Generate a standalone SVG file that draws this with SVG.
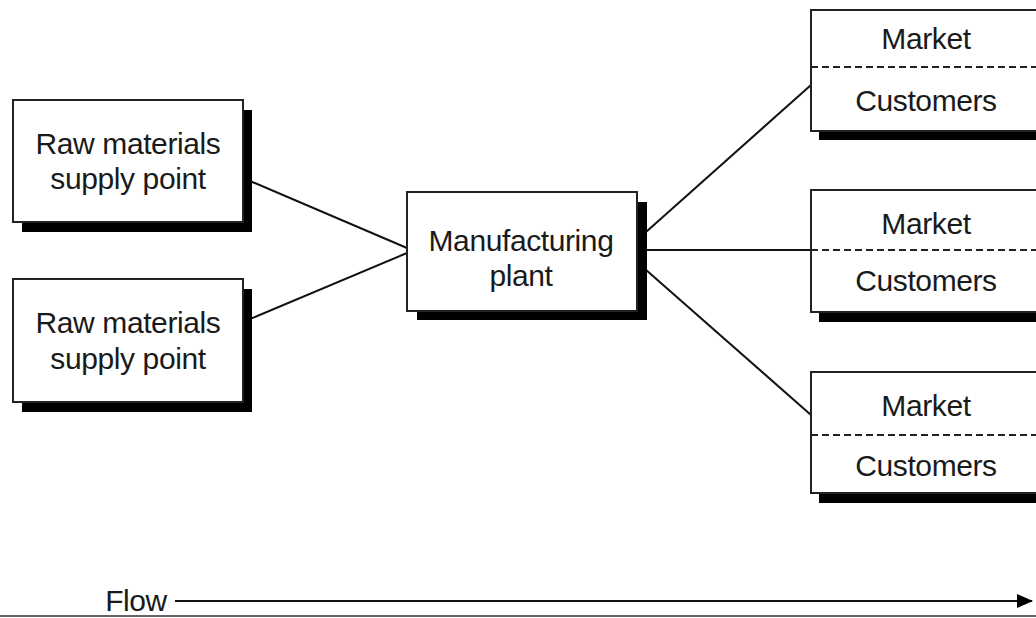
<svg xmlns="http://www.w3.org/2000/svg" width="1036" height="618" viewBox="0 0 1036 618">
<defs>
<style>
.box{fill:#fff;stroke:#222;stroke-width:2}
.sh{fill:#000}
.t{font-family:"Liberation Sans",Arial,sans-serif;font-size:30px;fill:#1a1a1a;text-anchor:middle;letter-spacing:-0.4px}
.c{stroke:#111;stroke-width:2;fill:none}
.d{stroke:#222;stroke-width:2;stroke-dasharray:7,4;fill:none}
</style>
<marker id="ah" markerWidth="16" markerHeight="16" refX="15" refY="8" orient="auto" markerUnits="userSpaceOnUse">
<path d="M0,1 L16,8 L0,15 Z" fill="#000"/>
</marker>
</defs>
<rect width="1036" height="618" fill="#fff"/>
<g id="connectors">
<line class="c" x1="243" y1="178" x2="407" y2="248"/>
<line class="c" x1="243" y1="322" x2="407" y2="253"/>
<line class="c" x1="637" y1="240" x2="811" y2="85"/>
<line class="c" x1="637" y1="250" x2="811" y2="250"/>
<line class="c" x1="637" y1="262" x2="811" y2="415"/>
</g>
<g id="raw1">
<rect class="sh" x="22" y="110" width="230" height="122"/>
<rect class="box" x="13" y="100" width="230" height="122"/>
<text class="t" x="128" y="154">Raw materials</text>
<text class="t" x="128" y="189">supply point</text>
</g>
<g id="raw2">
<rect class="sh" x="22" y="289" width="230" height="123"/>
<rect class="box" x="13" y="279" width="230" height="123"/>
<text class="t" x="128" y="333">Raw materials</text>
<text class="t" x="128" y="369">supply point</text>
</g>
<g id="plant">
<rect class="sh" x="417" y="202" width="230" height="118"/>
<rect class="box" x="407" y="192" width="230" height="119"/>
<text class="t" x="521" y="251">Manufacturing</text>
<text class="t" x="521" y="286">plant</text>
</g>
<g id="market1">
<rect class="sh" x="819" y="20" width="230" height="120"/>
<rect class="box" x="811" y="10" width="240" height="121"/>
<line class="d" x1="811" y1="67" x2="1036" y2="67"/>
<text class="t" x="926" y="49">Market</text>
<text class="t" x="926" y="111">Customers</text>
</g>
<g id="market2">
<rect class="sh" x="819" y="200" width="230" height="122"/>
<rect class="box" x="811" y="190" width="240" height="122"/>
<line class="d" x1="811" y1="250" x2="1036" y2="250"/>
<text class="t" x="926" y="234">Market</text>
<text class="t" x="926" y="291">Customers</text>
</g>
<g id="market3">
<rect class="sh" x="819" y="382" width="230" height="121"/>
<rect class="box" x="811" y="372" width="240" height="121"/>
<line class="d" x1="811" y1="435" x2="1036" y2="435"/>
<text class="t" x="926" y="416">Market</text>
<text class="t" x="926" y="476">Customers</text>
</g>
<g id="flow">
<text class="t" x="136" y="611">Flow</text>
<line class="c" x1="175" y1="601" x2="1032" y2="601" marker-end="url(#ah)"/>
<line x1="0" y1="616" x2="1036" y2="616" stroke="#666" stroke-width="2"/>
</g>
</svg>
